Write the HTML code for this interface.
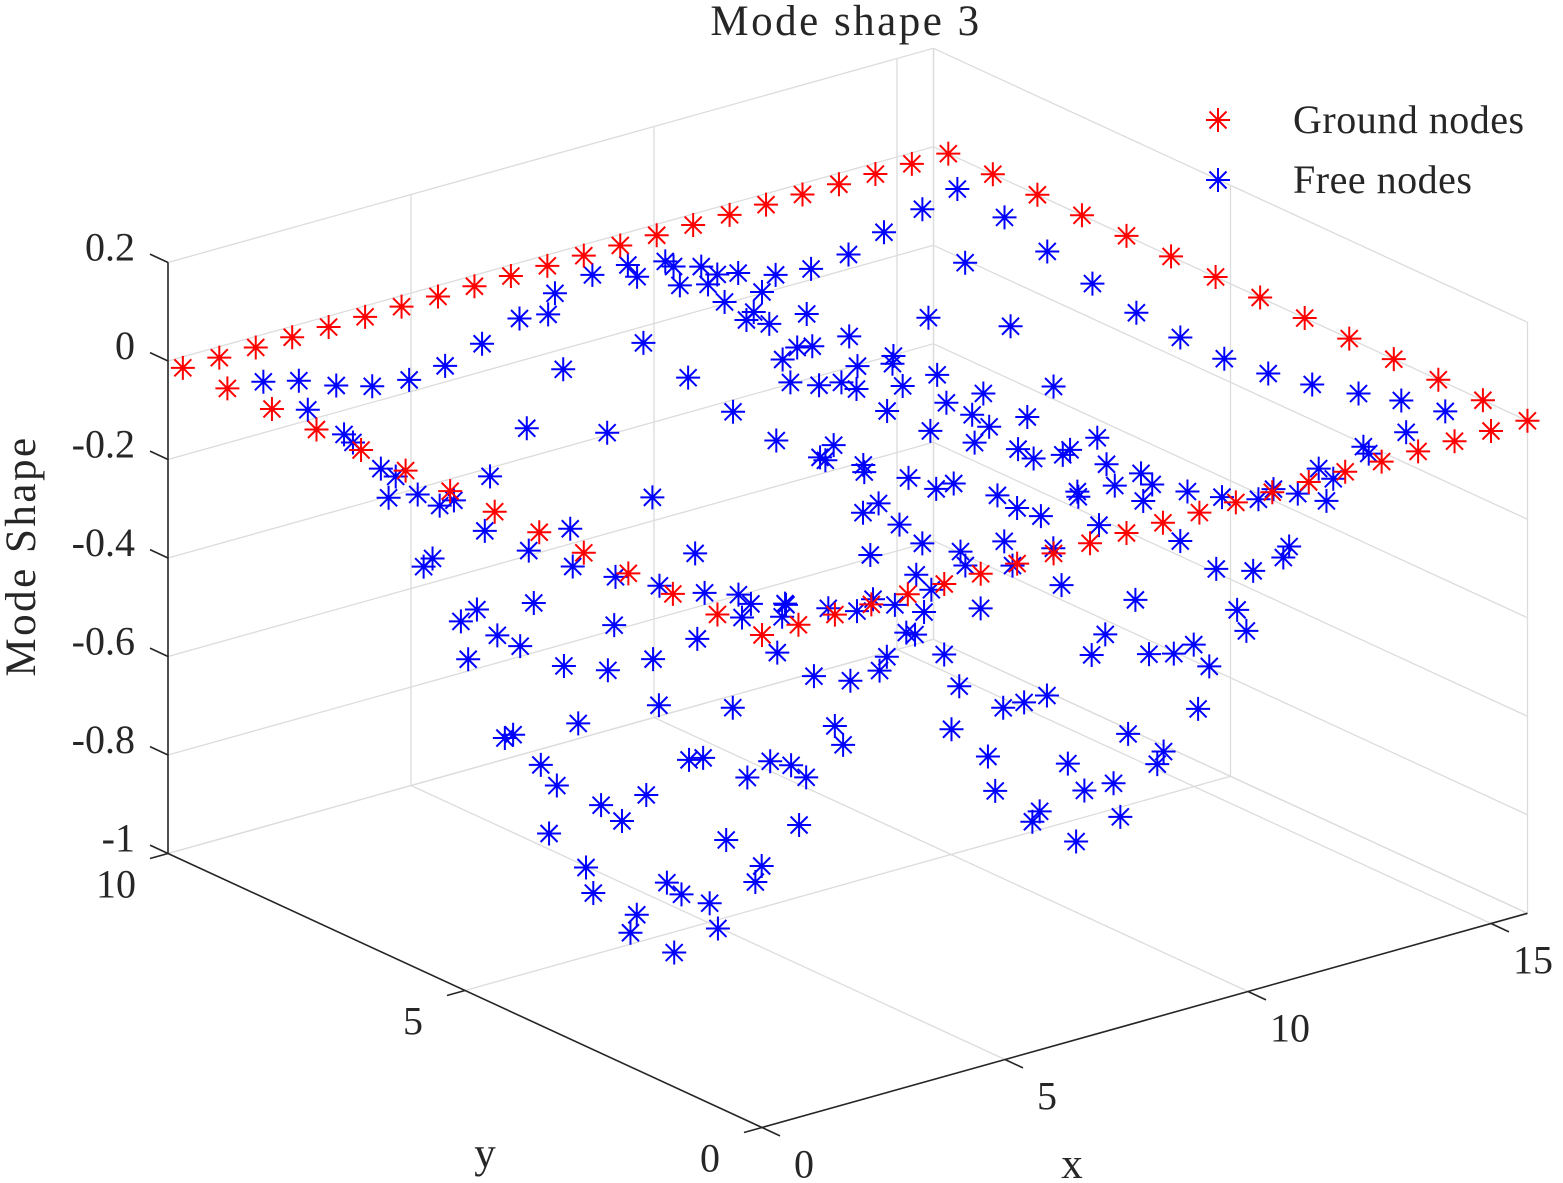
<!DOCTYPE html>
<html>
<head>
<meta charset="utf-8">
<style>
html,body{margin:0;padding:0;background:#fff;}
svg{display:block;}
text{font-family:"Liberation Serif","DejaVu Serif",serif;fill:#262626;}
</style>
</head>
<body>
<svg id="chart" width="1563" height="1183" viewBox="0 0 1563 1183" xmlns="http://www.w3.org/2000/svg">
  <rect x="0" y="0" width="1563" height="1183" fill="#ffffff"/>
  <g id="grid"></g>
  <g id="axes"></g>
  <g id="free"></g>
  <g id="ground"></g>
  <text x="846" y="35" font-size="43" letter-spacing="2.5" text-anchor="middle">Mode shape 3</text>
  <text x="0" y="0" font-size="43" letter-spacing="2.5" text-anchor="middle" transform="translate(35,556) rotate(-90)">Mode Shape</text>
  <text x="1072" y="1178" font-size="43" text-anchor="middle">x</text>
  <text x="485" y="1167" font-size="43" text-anchor="middle">y</text>
  <g id="legend">
    <g id="legend-ground"></g>
    <text x="1293" y="133" font-size="40" letter-spacing="0.5">Ground nodes</text>
    <g id="legend-free"></g>
    <text x="1293" y="193" font-size="40" letter-spacing="0.5">Free nodes</text>
  </g>
</svg>
<script>
// ---- axis data ----
const xTicks = [0, 5, 10, 15];
const yTicks = [0, 5, 10];
const zTicks = [-1, -0.8, -0.6, -0.4, -0.2, 0, 0.2];
const xTickLabels = ["0", "5", "10", "15"];
const yTickLabels = ["0", "5", "10"];
const zTickLabels = ["-1", "-0.8", "-0.6", "-0.4", "-0.2", "0", "0.2"];
const xLim = [0, 15.75];
const yLim = [0, 10];
const zLim = [-1, 0.2];

// ---- ground nodes (boundary, z = 0) ----
const groundX = [0,0.75,1.5,2.25,3,3.75,4.5,5.25,6,6.75,7.5,8.25,9,9.75,10.5,11.25,12,12.75,13.5,14.25,15,15.75,
  15.75,15.75,15.75,15.75,15.75,15.75,15.75,15.75,15.75,15.75,15.75,15.75,15.75,
  0,0.75,1.5,2.25,3,3.75,4.5,5.25,6,6.75,7.5,8.25,9,9.75,10.5,11.25,12,12.75,13.5,14.25,15,
  0,0,0,0,0,0,0,0,0,0,0,0];
const groundY = [9.75,9.75,9.75,9.75,9.75,9.75,9.75,9.75,9.75,9.75,9.75,9.75,9.75,9.75,9.75,9.75,9.75,9.75,9.75,9.75,9.75,9.75,
  9,8.25,7.5,6.75,6,5.25,4.5,3.75,3,2.25,1.5,0.75,0,
  0,0,0,0,0,0,0,0,0,0,0,0,0,0,0,0,0,0,0,0,0,
  0.75,1.5,2.25,3,3.75,4.5,5.25,6,6.75,7.5,8.25,9];
const groundZ = [0,0,0,0,0,0,0,0,0,0,0,0,0,0,0,0,0,0,0,0,0,0,
  0,0,0,0,0,0,0,0,0,0,0,0,0,
  0,0,0,0,0,0,0,0,0,0,0,0,0,0,0,0,0,0,0,0,0,
  0,0,0,0,0,0,0,0,0,0,0,0];

// ---- free nodes ----
const freeX = [
  0.74,1.47,2.24,2.98,3.74,4.48,5.24,6.01,6.74,7.51,8.24,9.01,9.75,10.51,11.28,12.01,12.78,13.51,14.30,15.02,
  15,15,15,15,15,15,15,15,15,15,15,
  0.75,0.75,0.75,0.75,0.75,0.75,0.75,0.75,0.75,0.75,0.75,0.75,0.75,0.75,0.75,0.75,0.75,0.75,0.75,0.75,
  1.35,2.22,2.81,3.14,3.59,4.19,4.03,4.34,4.94,5.04,5.84,6.01,6.85,7.79,8.70,9.61,10.32,11.07,11.38,11.88,12.47,12.31,12.61,13.23,13.34,14.11,1.33,1.27,1.17,
  6.60,6.91,6.16,8.43,9.18,9.31,9.89,10.08,15.18,11.00,10.23,10.83,10.68,11.15,11.92,8.56,9.48,
  2.96,4.61,3.86,2.69,2.36,3.11,3.58,2.51,4.48,8.98,9.28,9.59,10.35,10.52,11.26,11.24,11.45,11.98,9.14,9.73,10.19,10.50,12.16,12.35,13.11,12.88,13.23,7.96,11.13,12.02,12.93,8.85,10.03,9.75,9.86,10.64,5.37,6.30,7.18,10.66,11.57,12.14,12.50,13.40,13.67,
  2.33,0.82,0.99,1.56,1.89,1.73,2.49,2.64,
  8.19,8.51,8.94,9.41,8.34,9.08,9.26,8.68,8.53,7.93,7.18,9.86,10.61,10.17,10.01,10.76,10.91,
  4.78,3.87,2.94,3.07,3.99,5.51,2.80,3.23,3.73,4.61,4.90,5.81,6.28,6.71,7.02,7.61,7.78,
  12.11,11.57,11.38,11.70,12.30,12.45,13.01,13.20,13.37,13.91,14.14,12.60,11.36,11.85,12.62,
  1.09,0.96,1.86,1.71,2.01,2.59,2.76,2.93,4.43,3.66,3.53,
  9.83,11.35,10.73,10.45,11.63,12.14,12.55,8.63,9.06,9.53,12.64,11.20,11.93,11.80,12.87,9.96,10.30,10.90,9.38,9.23,11.04,10.13,
  11.18,11.94,12.56,12.68,11.61,11.80,10.44];
const freeY = [
  9,9,9,9,9,9,9,9,9,9,9,9,9,9,9,9,9,9,9,9,
  8.19,7.47,6.71,5.97,5.23,4.49,3.75,3.01,2.23,1.51,0.77,
  8.26,7.65,7.50,7.03,6.78,6.90,6.41,6.04,5.80,1.01,0.80,0.95,1.58,2.34,3.08,3.80,4.54,5.28,6.16,6.31,
  0.7,0.7,0.7,0.7,0.7,0.7,0.7,0.7,0.7,0.7,0.7,0.7,0.7,0.7,0.7,0.7,0.7,0.7,0.7,0.7,0.7,0.7,0.7,0.7,0.7,0.7,0.7,0.7,0.7,
  9,9,9,9,9,9,9,9,9,9,9,9,9,9,9,9,9,
  7,7,7,7,7,7,7,7,7,7,7,7,7,7,7,7,7,7,7,7,7,7,7,7,7,7,7,7,7,7,7,7,7,7,7,7,7,7,7,7,7,7,7,7,7,
  5,5,5,5,5,5,5,5,
  5,5,5,5,5,5,5,5,5,5,5,5,5,5,5,5,5,
  5,5,5,5,5,5,5,5,5,5,5,5,5,5,5,5,5,
  5,5,5,5,5,5,5,5,5,5,5,5,5,5,5,
  3,3,3,3,3,3,3,3,3,3,3,
  3,3,3,3,3,3,3,3,3,3,3,3,3,3,3,3,3,3,3,3,3,3,
  1.5,1.5,1.5,1.5,1.5,1.5,1.5];
const freeZ = [
  -0.007,-0.025,-0.056,-0.078,-0.086,-0.078,-0.054,-0.024,0.007,0.023,0.023,0.009,-0.022,-0.056,-0.081,-0.089,-0.081,-0.056,-0.031,-0.010,
  -0.022,-0.051,-0.074,-0.092,-0.101,-0.103,-0.092,-0.073,-0.048,-0.022,-0.003,
  -0.023,-0.039,-0.047,-0.074,-0.076,-0.126,-0.092,-0.094,-0.070,0.005,-0.002,-0.038,-0.023,-0.051,-0.074,-0.093,-0.102,-0.103,-0.208,-0.233,
  -0.015,-0.046,-0.068,-0.053,-0.077,-0.108,-0.028,-0.067,-0.006,-0.037,-0.010,-0.064,-0.052,-0.031,-0.007,-0.013,-0.044,-0.069,-0.057,-0.080,-0.111,-0.041,-0.070,-0.022,-0.039,-0.017,-0.012,-0.037,-0.107,
  -0.032,-0.152,-0.251,-0.006,-0.006,-0.048,-0.062,-0.047,-0.164,-0.108,-0.107,-0.144,-0.156,-0.177,-0.178,-0.144,-0.240,
  -0.149,-0.301,-0.431,-0.412,-0.427,-0.476,-0.511,-0.508,-0.576,-0.078,-0.062,-0.068,-0.069,-0.134,-0.134,-0.149,-0.200,-0.076,-0.129,-0.151,-0.158,-0.180,-0.197,-0.259,-0.261,-0.298,-0.332,-0.156,-0.242,-0.307,-0.356,-0.239,-0.281,-0.298,-0.307,-0.338,-0.127,-0.284,-0.422,-0.353,-0.390,-0.428,-0.427,-0.476,-0.140,
  -0.522,-0.510,-0.508,-0.585,-0.636,-0.729,-0.819,-0.875,
  -0.256,-0.246,-0.301,-0.352,-0.346,-0.524,-0.533,-0.562,-0.586,-0.590,-0.560,-0.590,-0.517,-0.663,-0.746,-0.822,-0.896,
  -0.418,-0.434,-0.431,-0.343,-0.531,-0.578,-0.701,-0.745,-0.706,-0.659,-0.663,-0.728,-0.708,-0.728,-0.761,-0.673,-0.716,
  -0.108,-0.155,-0.215,-0.243,-0.252,-0.246,-0.237,-0.296,-0.344,-0.334,-0.363,-0.335,-0.334,-0.364,-0.346,
  -0.765,-0.798,-0.863,-0.717,-0.749,-0.783,-0.839,-0.664,-0.675,-0.737,-0.766,
  -0.337,-0.409,-0.462,-0.496,-0.527,-0.540,-0.533,-0.553,-0.554,-0.553,-0.666,-0.677,-0.733,-0.755,-0.586,-0.703,-0.767,-0.769,-0.784,-0.801,-0.841,-0.866,
  -0.258,-0.283,-0.273,-0.254,-0.353,-0.401,-0.181];

// ---- projection (3D axis functions) ----
function sx(x, y, z) { return 762 + 48.6 * x - 59.4 * y; }
function sy(x, y, z) { return 635 - 13.6 * x - 27.4 * y - 492.5 * z; }

const NS = "http://www.w3.org/2000/svg";
const gGrid = document.getElementById('grid');
const gAxes = document.getElementById('axes');
const gFree = document.getElementById('free');
const gGround = document.getElementById('ground');

function line(parent, a, b, color, w, name) {
  const l = document.createElementNS(NS, 'line');
  l.setAttribute('x1', sx(a[0], a[1], a[2]).toFixed(1));
  l.setAttribute('y1', sy(a[0], a[1], a[2]).toFixed(1));
  l.setAttribute('x2', sx(b[0], b[1], b[2]).toFixed(1));
  l.setAttribute('y2', sy(b[0], b[1], b[2]).toFixed(1));
  l.setAttribute('stroke', color);
  l.setAttribute('stroke-width', w);
  
  
  parent.appendChild(l);
  return l;
}
function rawLine(parent, x1, y1, x2, y2, color, w, name) {
  const l = document.createElementNS(NS, 'line');
  l.setAttribute('x1', x1.toFixed(1)); l.setAttribute('y1', y1.toFixed(1));
  l.setAttribute('x2', x2.toFixed(1)); l.setAttribute('y2', y2.toFixed(1));
  l.setAttribute('stroke', color); l.setAttribute('stroke-width', w);
  
  
  parent.appendChild(l);
}
function txt(parent, x, y, s, anchor, name) {
  const t = document.createElementNS(NS, 'text');
  t.setAttribute('x', x.toFixed(1)); t.setAttribute('y', y.toFixed(1));
  t.setAttribute('font-size', '40');
  t.setAttribute('text-anchor', anchor);
  t.textContent = s;
  
  
  parent.appendChild(t);
}

const GC = '#dcdcdc', GW = 1.3;
const [x0, x1] = xLim, [y0, y1] = yLim, [z0, z1] = zLim;
xTicks.forEach(v => line(gGrid, [v, y0, z0], [v, y1, z0], GC, GW, 'floor-grid-x'));
yTicks.forEach(v => line(gGrid, [x0, v, z0], [x1, v, z0], GC, GW, 'floor-grid-y'));
line(gGrid, [x1, y0, z0], [x1, y1, z0], GC, GW, 'floor-edge');
xTicks.forEach(v => line(gGrid, [v, y1, z0], [v, y1, z1], GC, GW, 'back-wall-grid-x'));
zTicks.forEach(v => line(gGrid, [x0, y1, v], [x1, y1, v], GC, GW, 'back-wall-grid-z'));
line(gGrid, [x1, y1, z0], [x1, y1, z1], GC, GW, 'back-corner-edge');
yTicks.forEach(v => line(gGrid, [x1, v, z0], [x1, v, z1], GC, GW, 'side-wall-grid-y'));
zTicks.forEach(v => line(gGrid, [x1, y0, v], [x1, y1, v], GC, GW, 'side-wall-grid-z'));

const AC = '#262626', AW = 1.6;
line(gAxes, [x0, y1, z0], [x0, y1, z1], AC, AW, 'z-axis-line');
line(gAxes, [x0, y0, z0], [x1, y0, z0], AC, AW, 'x-axis-line');
line(gAxes, [x0, y0, z0], [x0, y1, z0], AC, AW, 'y-axis-line');
zTicks.forEach((v, i) => {
  const px = sx(x0, y1, v), py = sy(x0, y1, v);
  rawLine(gAxes, px, py, px - 18, py - 8.4, AC, AW, 'z-tick');
  txt(gAxes, 135, py - 2, zTickLabels[i], 'end', 'z-tick-label');
});
xTicks.forEach((v, i) => {
  const px = sx(v, y0, z0), py = sy(v, y0, z0);
  rawLine(gAxes, px, py, px + 18, py + 8.4, AC, AW, 'x-tick');
  txt(gAxes, px + 42, py + 50, xTickLabels[i], 'middle', 'x-tick-label');
});
yTicks.forEach((v, i) => {
  const px = sx(x0, v, z0), py = sy(x0, v, z0);
  rawLine(gAxes, px, py, px - 18, py + 5, AC, AW, 'y-tick');
  txt(gAxes, px - 52, py + 44, yTickLabels[i], 'middle', 'y-tick-label');
});

function star(parent, cx, cy, color, name) {
  const g = document.createElementNS(NS, 'path');
  const a = 12, d = 8.5;
  g.setAttribute('d', `M${cx} ${cy - a}V${cy + a}M${cx - a} ${cy}H${cx + a}M${cx - d} ${cy - d}L${cx + d} ${cy + d}M${cx - d} ${cy + d}L${cx + d} ${cy - d}`);
  g.setAttribute('stroke', color);
  g.setAttribute('stroke-width', '2');
  g.setAttribute('fill', 'none');
  
  
  parent.appendChild(g);
}
const nFree = Math.min(freeX.length, freeY.length, freeZ.length);
for (let i = 0; i < nFree; i++) {
  star(gFree, sx(freeX[i], freeY[i], freeZ[i]), sy(freeX[i], freeY[i], freeZ[i]), '#0000ff', 'free-node');
}
const nGround = Math.min(groundX.length, groundY.length, groundZ.length);
for (let i = 0; i < nGround; i++) {
  star(gGround, sx(groundX[i], groundY[i], groundZ[i]), sy(groundX[i], groundY[i], groundZ[i]), '#ff0000', 'ground-node');
}
star(document.getElementById('legend-ground'), 1218, 120, '#ff0000', 'legend-marker-ground');
star(document.getElementById('legend-free'), 1218, 180, '#0000ff', 'legend-marker-free');
</script>
</body>
</html>
